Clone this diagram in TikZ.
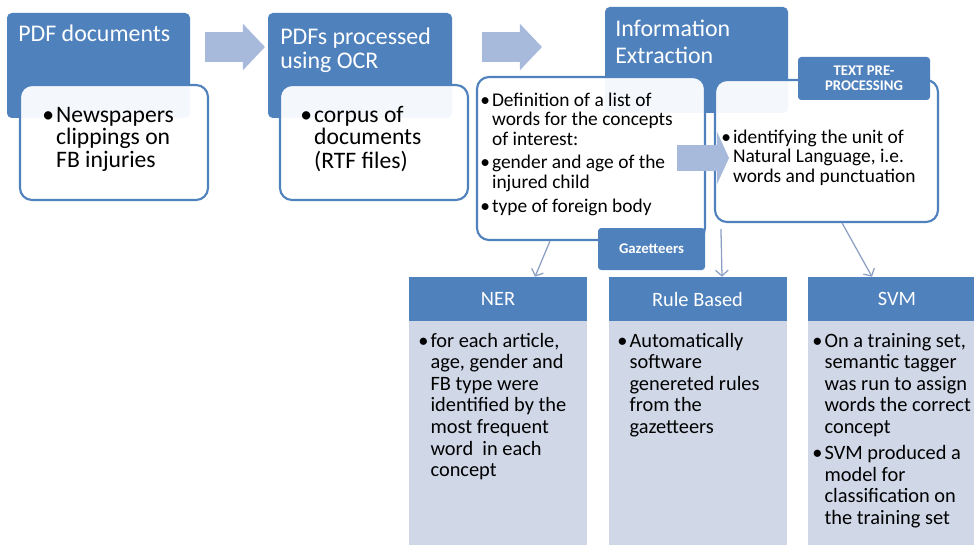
\documentclass[tikz,border=0pt]{standalone}
\usepackage{fontspec}
\setmainfont{Carlito}
\usetikzlibrary{arrows.meta,positioning}
\def\pxu{0.025cm}
\definecolor{boxblue}{RGB}{79,129,189}
\definecolor{arrowblue}{RGB}{168,186,220}
\definecolor{lineblue}{RGB}{140,160,196}
\definecolor{bodyblue}{RGB}{208,216,232}
\newcommand{\bulletlist}[1]{\begin{tabular}[t]{@{}l@{\hspace{1.5pt}}l@{}}#1\end{tabular}}

\begin{document}
\begin{tikzpicture}[x=\pxu,y=-\pxu]
        \tikzstyle{headbox}=[rectangle,rounded corners=0.12cm,fill=boxblue,inner sep=0pt]
        \tikzstyle{whitebox}=[rectangle,rounded corners=0.3cm,draw=boxblue,line width=1.5pt,fill=white,fill opacity=0.94,inner sep=0pt]
        \tikzstyle{tag}=[rectangle,rounded corners=0.08cm,fill=boxblue,text=white,inner sep=0pt,align=center,font=\fontsize{10.5}{11}\selectfont\bfseries]
        \tikzstyle{colhead}=[rectangle,fill=boxblue,text=white,inner sep=0pt,font=\fontsize{14.5}{16}\selectfont]
        \tikzstyle{colbody}=[rectangle,fill=bodyblue,inner sep=0pt]
        \tikzstyle{title}=[anchor=base west,inner sep=0pt,text=white,font=\fontsize{17}{17}\selectfont]
        \tikzstyle{bigtext}=[anchor=base west,inner sep=0pt,font=\fontsize{16.8}{15.5}\selectfont]
        \tikzstyle{smalltext}=[anchor=base west,inner sep=0pt,font=\fontsize{13.8}{14.2}\selectfont]
        \tikzstyle{coltext}=[anchor=base west,inner sep=0pt,font=\fontsize{14.5}{15.4}\selectfont]
        \tikzstyle{bigarrow}=[draw=arrowblue,line width=0.75cm,-{Triangle[length=0.55cm,width=1.125cm]}]
        \tikzstyle{thinarrow}=[draw=lineblue,line width=0.9pt,-{Straight Barb[length=4pt,width=9pt]}]
        \tikzset{sized/.style 2 args={minimum width=#1*\pxu,minimum height=#2*\pxu}}

        \useasboundingbox (0,0) rectangle (974,545);
        \clip (0,0) rectangle (974,545);

        % First step: the PDF files
        \node[headbox,sized={183}{105}] (pdfhead) at (98.5,65.5) {};
        \node[title] (pdftitle) at (18,42) {PDF documents};
        \node[whitebox,sized={188}{115}] (pdfbody) at (114,142.5) {};
        \node[bigtext] (pdftext) at (42,122)
            {\bulletlist{\textbullet & Newspapers\\ & clippings on\\ & FB injuries}};

        % Second step: OCR
        \node[headbox,sized={184}{105}] (ocrhead) at (360,65.5) {};
        \node[title] (ocrtitle) at (280,45) {\begin{tabular}[t]{@{}l@{}}PDFs processed\\using OCR\end{tabular}};
        \node[whitebox,sized={188}{115}] (ocrbody) at (374,142.5) {};
        \node[bigtext] (ocrtext) at (300,122)
            {\bulletlist{\textbullet & corpus of\\ & documents\\ & (RTF files)}};

        % Block arrows between the steps
        \coordinate (arr1-s) at (205,47);
        \coordinate (arr1-e) at (265,47);
        \coordinate (arr2-s) at (482,47);
        \coordinate (arr2-e) at (542,47);
        \draw[bigarrow] (arr1-s) -- (arr1-e);
        \draw[bigarrow] (arr2-s) -- (arr2-e);

        % Third step: information extraction
        \node[headbox,sized={183}{106}] (iehead) at (696.5,60) {};
        \node[title] (ietitle) at (615,37) {\begin{tabular}[t]{@{}l@{}}Information\\[1.5pt]Extraction\end{tabular}};
        \node[whitebox,sized={228}{163}] (gazbox) at (591,158.5) {};
        \node[whitebox,sized={223}{142}] (tppbox) at (826.5,151) {};
        \node[smalltext] (gaztext) at (480,106)
            {\bulletlist{\textbullet & Definition of a list of\\ & words for the concepts\\ & of interest:\\[2pt]
              \textbullet & gender and age of the\\ & injured child\\[3pt] \textbullet & type of foreign body}};
        \node[smalltext] (tpptext) at (721,143)
            {\bulletlist{\textbullet & identifying the unit of\\ & Natural Language, i.e.\\ & words and punctuation}};
        \node[tag,sized={132}{43}] (tpptag) at (864,78.5) {TEXT PRE-\\PROCESSING};
        \node[tag,sized={107}{42}] (gaztag) at (651.5,249) {Gazetteers};
        \coordinate (arr3-s) at (677,158);
        \coordinate (arr3-e) at (729,158);
        \draw[draw=arrowblue,line width=0.65cm,-{Triangle[length=0.3cm,width=1.3cm]}] (arr3-s) -- (arr3-e);

        % Draw the three methods
        \foreach \name/\x/\label in {ner/498/NER,rule/697.5/Rule Based,svm/897/SVM}
        {
            \node[colbody,sized={178}{240}] (\name body) at (\x,441) {};
            \node[colhead,sized={178}{44}] (\name head) at (\x,299) {\label};
        }

        \node[coltext] (nertext) at (418,347)
            {\bulletlist{\textbullet & for each article,\\ & age, gender and\\ & FB type were\\ & identified by the\\
              & most frequent\\ & word\ \ in each\\ & concept}};
        \node[coltext] (ruletext) at (617,347)
            {\bulletlist{\textbullet & Automatically\\ & software\\ & genereted rules\\ & from the\\ & gazetteers}};
        \node[coltext] (svmtext) at (812,347)
            {\bulletlist{\textbullet & On a training set,\\ & semantic tagger\\ & was run to assign\\ & words the correct\\
              & concept\\[3pt] \textbullet & SVM produced a\\ & model for\\ & classification on\\ & the training set}};

        % Connect the extraction step with the methods
        \draw[thinarrow] ([xshift=-1.025cm]gazbox.south) -- ([xshift=0.925cm]nerhead.north);
        \draw[thinarrow] ([xshift=0.175cm,yshift=-0.15cm]tppbox.south west) -- ([xshift=0.6125cm]rulehead.north);
        \draw[thinarrow] ([xshift=0.39cm]tppbox.south) -- ([xshift=-0.625cm]svmhead.north);
    \end{tikzpicture}
\end{document}
